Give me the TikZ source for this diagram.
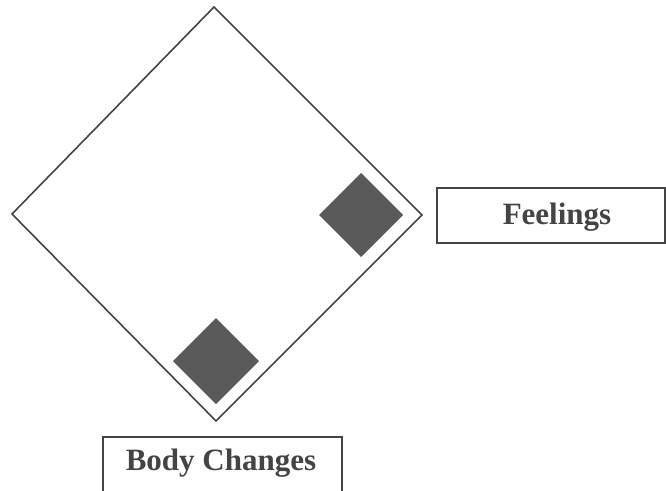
\documentclass[tikz,border=0pt]{standalone}
\usepackage{fontspec}
\setmainfont{Liberation Serif}
\usetikzlibrary{calc}

\begin{document}
\begin{tikzpicture}[x=1pt, y=-1pt, line width=1.6pt]
  \useasboundingbox (0,0) rectangle (666,490);
  \definecolor{ink}{HTML}{444444}
  \definecolor{markgray}{HTML}{595959}
  % big diamond
  \coordinate (T) at (214,7);
  \coordinate (L) at (12,214);
  \coordinate (R) at (422,215);
  \coordinate (B) at (216,421);
  % the two marks
  \coordinate (F) at (361,215);
  \coordinate (C) at (216,361);

  \draw[ink, line join=miter] (T) -- (R) -- (B) -- (L) -- cycle;
  \fill[markgray] ($(F)+(-42,0)$) -- ($(F)+(0,-42)$) -- ($(F)+(42,0)$) -- ($(F)+(0,42)$) -- cycle;
  \fill[markgray] ($(C)+(-43,0)$) -- ($(C)+(0,-43)$) -- ($(C)+(43,0)$) -- ($(C)+(0,43)$) -- cycle;

  % label boxes
  \draw[ink] (437,188) rectangle (665,243);
  \draw[ink] (103,437) rectangle (342,495);
  \node[anchor=base, text=ink, font=\fontsize{31}{31}\selectfont\bfseries] (feel) at (557,224) {Feelings};
  \node[anchor=base, text=ink, font=\fontsize{31}{31}\selectfont\bfseries] (body) at (221,470) {Body Changes};
\end{tikzpicture}
\end{document}
